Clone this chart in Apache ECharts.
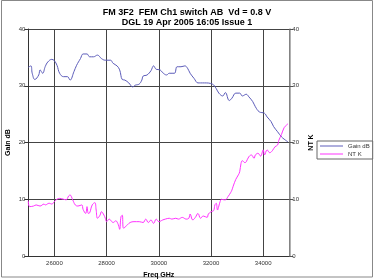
<!DOCTYPE html>
<html><head><meta charset="utf-8">
<script src="https://cdn.jsdelivr.net/npm/echarts@6/dist/echarts.min.js"></script>
<style>html,body{margin:0;padding:0;background:#fff}#c{width:374px;height:280px}</style>
</head><body><div id="c"></div>
<script>
var titleLines = ['FM 3F2  FEM Ch1 switch AB  Vd = 0.8 V', 'DGL 19 Apr 2005 16:05 Issue 1'];
var xName = 'Freq GHz';
var yLeftName = 'Gain dB';
var yRightName = 'NT K';
var seriesNames = ['Gain dB', 'NT K'];

var gainFreq = [25000,25100,25150,25250,25400,25450,25550,25650,25750,25900,26000,26100,26200,26350,26500,26600,26750,26850,27000,27100,27250,27350,27500,27650,27800,27950,28150,28250,28400,28500,28600,28700,28850,29000,29100,29250,29350,29400,29550,29700,29800,29900,30050,30150,30300,30400,30600,30700,30850,31000,31100,31200,31350,31500,31600,31750,32050,32200,32300,32450,32550,32700,32800,32950,33100,33200,33350,33450,33600,33700,33850,34050,34150,34300,34400,34550,34700,34800,34950];
var gainVal = [33.25,33.5,32.2,31.1,31.9,32.8,32.2,33.4,34.2,34.65,34.4,33.6,32.2,31.6,31.6,31.0,32.5,33.6,34.8,35.6,35.6,35.1,35.1,35.4,34.8,34.5,34.5,33.95,33.5,32.8,31.1,31.0,30.5,29.8,30.1,30.3,31.0,31.7,31.9,32.65,33.5,32.9,32.8,32.3,31.9,32.2,32.2,33.35,33.35,33.5,33.1,32.2,31.3,30.5,30.5,30.5,30.3,29.5,28.7,28.2,28.8,27.4,27.8,28.7,28.7,28.2,28.5,28.05,27.2,26.3,25.4,25.15,24.5,23.7,22.8,21.9,21.0,20.6,20.1];

var ntFreq = [25000,25050,25200,25300,25450,25600,25650,25800,25900,26000,26100,26200,26350,26450,26550,26600,26700,26800,26900,27050,27100,27200,27250,27300,27350,27450,27550,27600,27650,27750,27800,27900,27950,28000,28100,28200,28250,28350,28450,28500,28550,28600,28650,28800,28900,29050,29250,29400,29500,29600,29700,29800,29900,30000,30150,30250,30400,30500,30650,30750,30900,31050,31150,31200,31300,31400,31500,31600,31700,31850,31900,32000,32100,32150,32200,32250,32300,32350,32400,32500,32550,32650,32750,32800,32850,32950,33050,33100,33150,33200,33300,33350,33450,33550,33650,33700,33800,33900,34000,34050,34150,34250,34350,34450,34550,34600,34700,34800,34900,34950];
var ntVal = [9.75,8.7,8.8,9.0,8.8,9.15,9.0,9.3,9.15,9.6,10.0,10.15,10.0,9.9,10.6,10.75,9.9,9.0,8.8,9.0,8.2,7.5,8.7,7.5,7.6,9.0,9.4,8.1,6.65,7.2,7.8,7.2,6.65,6.05,6.5,6.05,5.9,6.2,5.5,4.7,6.9,7.2,4.9,5.5,5.9,6.05,6.05,5.9,6.5,5.9,6.35,5.75,6.5,6.05,6.35,6.5,6.65,6.5,6.65,6.5,6.8,6.5,6.65,7.4,6.35,6.8,7.5,6.65,7.05,6.8,7.4,7.8,8.0,9.0,9.3,8.1,8.8,9.6,10.0,9.9,9.9,10.45,11.15,11.6,12.3,13.5,14.3,14.85,16.3,16.8,16.45,16.6,17.5,17.8,17.2,17.8,18.1,17.6,18.7,17.8,18.7,18.2,18.55,19.25,19.55,20.4,21.4,22.6,23.1,23.3];

var xMin = 25000, xMax = 35000;
var yMin = 0, yMax = 40, yStep = 10;

function pairs(xs, ys){ return xs.map(function(x,i){ return [x, ys[i]]; }); }

var chart = echarts.init(document.getElementById('c'), null, {renderer:'canvas'});
var axisLbl = {fontSize:6, color:'#333', fontFamily:'Liberation Sans'};
var nameStyle = {fontSize:7, fontWeight:'bold', color:'#000', fontFamily:'Liberation Sans'};
chart.setOption({
  animation:false,
  backgroundColor:'#fff',
  title:{
    text: titleLines.join('\n'),
    left:'center', top:3,
    textStyle:{fontSize:9, fontWeight:'bold', color:'#000', fontFamily:'Liberation Sans', lineHeight:9.5}
  },
  graphic:[{type:'rect', shape:{x:1.5, y:0.5, width:371, height:276.5}, style:{fill:'none', stroke:'#888', lineWidth:1}, silent:true}],
  grid:{left:28.3, right:84.7, top:29, bottom:24, containLabel:false, outerBoundsMode:'none'},
  legend:{
    orient:'vertical', left:317, top:141,
    data:seriesNames,
    icon:'rect',
    itemWidth:23, itemHeight:1, itemGap:2,
    padding:[2,3,2,3],
    borderColor:'#666', borderWidth:1, backgroundColor:'#fff',
    textStyle:{fontSize:6, color:'#333', fontFamily:'Liberation Sans', lineHeight:6}
  },
  xAxis:{
    type:'value', min:xMin, max:xMax, splitNumber:5,
    name:xName, nameLocation:'middle', nameGap:16, nameMoveOverlap:false, nameTextStyle:nameStyle,
    axisLine:{show:true, lineStyle:{color:'#333', width:1}},
    axisTick:{show:false},
    axisLabel:Object.assign({showMinLabel:false, showMaxLabel:false, margin:4, formatter:function(v){return String(v);}}, axisLbl),
    splitLine:{show:true, lineStyle:{color:'#444', width:1}}
  },
  yAxis:[{
    type:'value', min:yMin, max:yMax, interval:yStep, position:'left',
    name:yLeftName, nameLocation:'middle', nameGap:17, nameMoveOverlap:false, nameRotate:90, nameTextStyle:nameStyle,
    axisLine:{show:true, lineStyle:{color:'#333', width:1}},
    axisTick:{show:true, length:4, lineStyle:{color:'#333'}},
    axisLabel:Object.assign({margin:3}, axisLbl),
    splitLine:{show:true, lineStyle:{color:'#444', width:1}}
  },{
    type:'value', min:yMin, max:yMax, interval:yStep, position:'right',
    name:yRightName, nameLocation:'middle', nameGap:18, nameMoveOverlap:false, nameRotate:90, nameTextStyle:nameStyle,
    axisLine:{show:true, lineStyle:{color:'#999', width:1.5}},
    axisTick:{show:true, length:4, lineStyle:{color:'#555'}},
    axisLabel:Object.assign({margin:3}, axisLbl),
    splitLine:{show:false}
  }],
  series:[{
    name:seriesNames[0], type:'line', yAxisIndex:0, symbol:'none', smooth:0.4,
    data:pairs(gainFreq, gainVal),
    lineStyle:{color:'#5c5cba', width:1}, itemStyle:{color:'#5c5cba'}
  },{
    name:seriesNames[1], type:'line', yAxisIndex:1, symbol:'none', smooth:0.4,
    data:pairs(ntFreq, ntVal),
    lineStyle:{color:'#ff33ff', width:1}, itemStyle:{color:'#ff33ff'}
  }]
});
</script></body></html>
